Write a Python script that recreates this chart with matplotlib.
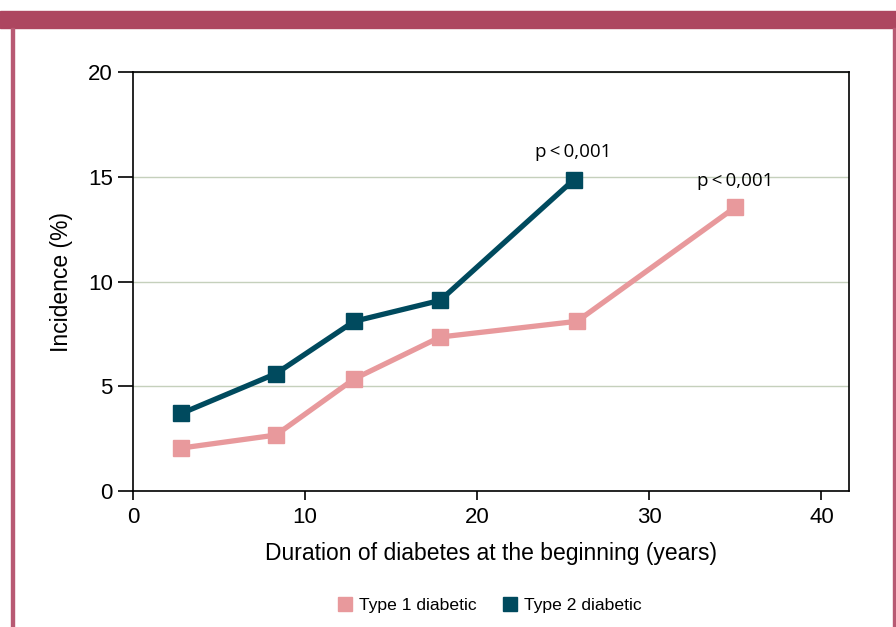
import matplotlib
matplotlib.use("Agg")
import matplotlib.pyplot as plt
from matplotlib.patches import Rectangle

# data
t1_duration = [2.8, 8.3, 12.85, 17.85, 25.8, 35.0]
t1_incidence = [2.05, 2.67, 5.35, 7.35, 8.1, 13.55]
t2_duration = [2.8, 8.3, 12.85, 17.85, 25.6]
t2_incidence = [3.7, 5.6, 8.1, 9.1, 14.85]
series_labels = ["Type 1 diabetic", "Type 2 diabetic"]
p_label = "p\u2009<\u20090,001"

pink = "#E8999C"
navy = "#004A5E"
frame = "#AD4660"

plt.rcParams['font.family'] = ['Liberation Sans', 'DejaVu Sans']

fig = plt.figure(figsize=(8.96, 6.27), dpi=100)
W, H = 896, 627

# frame: top bar and side borders
fig.patches.append(Rectangle((0, 1 - 28 / H), 1, 17 / H, transform=fig.transFigure,
                             color=frame, zorder=0))
fig.patches.append(Rectangle((11 / W, 0), 2.5 / W, 1 - 28 / H, transform=fig.transFigure,
                             color="#B85A73", zorder=0))
fig.patches.append(Rectangle((892.5 / W, 0), 2.5 / W, 1 - 28 / H, transform=fig.transFigure,
                             color="#B85A73", zorder=0))

ax = fig.add_axes([133 / W, 1 - 491 / H, (849 - 133) / W, (491 - 72) / H])

ax.plot(t1_duration, t1_incidence, color=pink, lw=3.8, marker="s", ms=11.5,
        label=series_labels[0], zorder=3)
ax.plot(t2_duration, t2_incidence, color=navy, lw=3.8, marker="s", ms=11.5,
        label=series_labels[1], zorder=4)

ax.annotate(p_label, (t2_duration[-1], t2_incidence[-1]), xytext=(0, 13.5),
            textcoords="offset points", ha="center", va="bottom", fontsize=13.5,
            family=["Open Sans", "DejaVu Sans"])
ax.annotate(p_label, (t1_duration[-1], t1_incidence[-1]), xytext=(0, 12.5),
            textcoords="offset points", ha="center", va="bottom", fontsize=13.5,
            family=["Open Sans", "DejaVu Sans"])

ax.set_xlim(0, 41.6)
ax.set_ylim(0, 20)
ax.set_xticks([0, 10, 20, 30, 40])
ax.set_yticks([0, 5, 10, 15, 20])
ax.yaxis.grid(True, color="#C5D0BC", lw=1)
ax.set_axisbelow(True)
ax.tick_params(direction="out", width=1.2, labelsize=16)
ax.tick_params(axis="x", length=6.5, pad=5)
ax.tick_params(axis="y", length=10.5, pad=4)
for s in ax.spines.values():
    s.set_linewidth(1.2)

ax.set_xlabel("Duration of diabetes at the beginning (years)", fontsize=16.5, labelpad=10)
ax.set_ylabel("Incidence (%)", fontsize=16.5, labelpad=11)

fig.legend(loc="center", bbox_to_anchor=(490 / W, 1 - 605 / H), ncol=2, frameon=False,
           fontsize=12.6, handlelength=0.8, handleheight=0.8, handletextpad=0.4,
           columnspacing=1.5)
leg = fig.legends[0]
for h in leg.legend_handles:
    h.set_linestyle("none")
    h.set_markersize(10.5)

fig.savefig("out.png", dpi=100)
